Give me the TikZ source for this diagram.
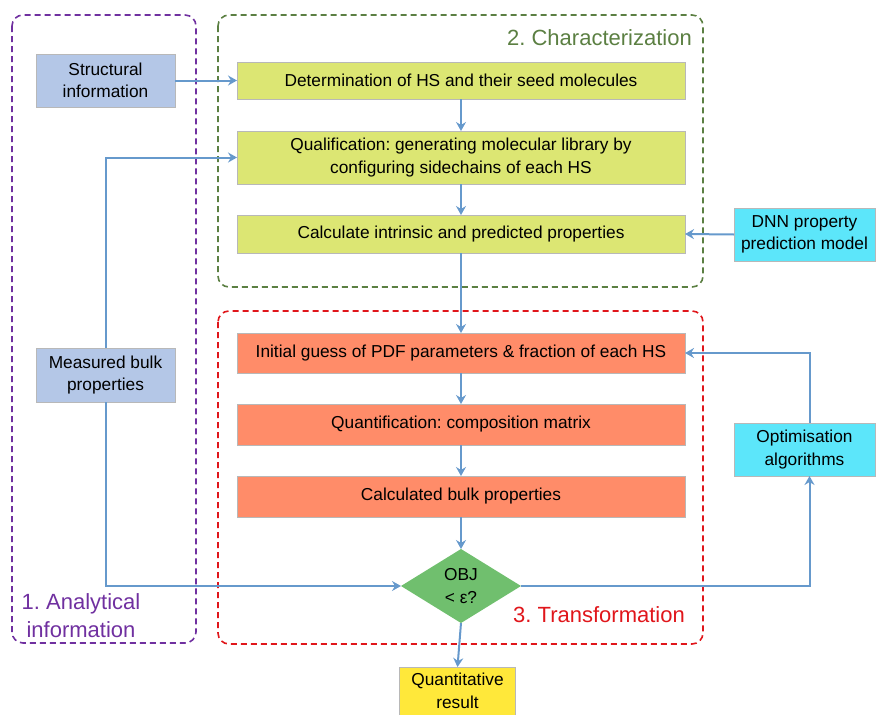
\documentclass[tikz,border=0pt]{standalone}
\usepackage{fontspec}
\setmainfont{Liberation Sans}
\frenchspacing
\usetikzlibrary{shapes.geometric,arrows.meta}
\definecolor{cblue}{HTML}{B4C7E7}
\definecolor{cyg}{HTML}{DCE673}
\definecolor{corange}{HTML}{FF8C69}
\definecolor{cdia}{HTML}{70BF6E}
\definecolor{ccyan}{HTML}{5CE6FA}
\definecolor{cyel}{HTML}{FFE83A}
\definecolor{carrow}{HTML}{6699CC}
\definecolor{cpurple}{HTML}{7030A0}
\definecolor{cgreen}{HTML}{5B7F42}
\definecolor{cred}{HTML}{E0161B}
\definecolor{cborder}{HTML}{B8B8B8}
\begin{document}
\begin{tikzpicture}[x=1pt,y=-1pt,
  box/.style={draw=cborder,line width=1pt,inner sep=0pt,outer sep=0pt,align=center,
    font=\fontsize{17.3}{22.5}\selectfont},
  arr/.style={draw=carrow,line width=2pt,-{Stealth[length=9pt,width=10pt,inset=3pt]}},
  grp/.style={dashed,dash pattern=on 6pt off 4pt,line width=1.6pt,rounded corners=11pt},
  grplabel/.style={inner sep=0pt,font=\fontsize{22}{28}\selectfont,align=center}]
\useasboundingbox (0,0) rectangle (876,715);
% groups
\draw[grp,draw=cpurple] (12,15) rectangle (196,643);
\draw[grp,draw=cgreen] (218,15) rectangle (703,287);
\draw[grp,draw=cred] (218,311) rectangle (703,644);
\node[grplabel,text=cgreen,anchor=east] (lab2) at (692,38) {2. Characterization};
\node[grplabel,text=cred,anchor=east] (lab3) at (685,615) {3. Transformation};
\node[grplabel,text=cpurple] (lab1) at (81,616) {1. Analytical\\information};
% nodes
\node[box,fill=cblue,minimum width=139,minimum height=53] (si) at (105.5,80.5) {Structural\\information};
\node[box,fill=cblue,minimum width=139,minimum height=54] (mb) at (105.5,375) {Measured bulk\\properties};
\node[box,fill=cyg,minimum width=448,minimum height=37] (g1) at (461,80.5) {Determination of HS and their seed molecules};
\node[box,fill=cyg,minimum width=448,minimum height=53] (g2) at (461,157.5) {Qualification: generating molecular library by\\configuring sidechains of each HS};
\node[box,fill=cyg,minimum width=448,minimum height=38] (g3) at (461,234) {Calculate intrinsic and predicted properties};
\node[box,fill=corange,minimum width=448,minimum height=40] (o1) at (461,353) {Initial guess of PDF parameters \& fraction of each HS};
\node[box,fill=corange,minimum width=448,minimum height=41] (o2) at (461,424.5) {Quantification: composition matrix};
\node[box,fill=corange,minimum width=448,minimum height=41] (o3) at (461,496.5) {Calculated bulk properties};
\node[diamond,fill=cdia,minimum width=120,minimum height=74,inner sep=0pt,outer sep=0pt] (dia) at (461,586) {};
\node[inner sep=0pt,align=center,font=\fontsize{17.3}{22.5}\selectfont] (diat) at (dia.center) {OBJ\\< ε?};
\node[box,fill=cyel,minimum width=116,minimum height=48] (qr) at (457.5,691) {Quantitative\\result};
\node[box,fill=ccyan,minimum width=141,minimum height=53] (dnn) at (804.5,234.5) {DNN property\\prediction model};
\node[box,fill=ccyan,minimum width=141,minimum height=53] (opt) at (804.5,449.5) {Optimisation\\algorithms};
% connectors
\draw[arr] (si.east) -- (g1.west);
\draw[arr] (mb.north) |- (g2.west);
\draw[arr] (mb.south) |- (dia.west);
\draw[arr] (g1.south) -- (g2.north);
\draw[arr] (g2.south) -- (g3.north);
\draw[arr] (g3.south) -- (o1.north);
\draw[arr] (o1.south) -- (o2.north);
\draw[arr] (o2.south) -- (o3.north);
\draw[arr] (o3.south) -- (dia.north);
\draw[arr] (dnn.west) -- (g3.east);
\draw[arr] (dia.east) -| ([xshift=5pt]opt.south);
\draw[arr] ([xshift=5pt]opt.north) |- (o1.east);
\draw[arr] (dia.south) -- (qr.north);
\end{tikzpicture}
\end{document}
